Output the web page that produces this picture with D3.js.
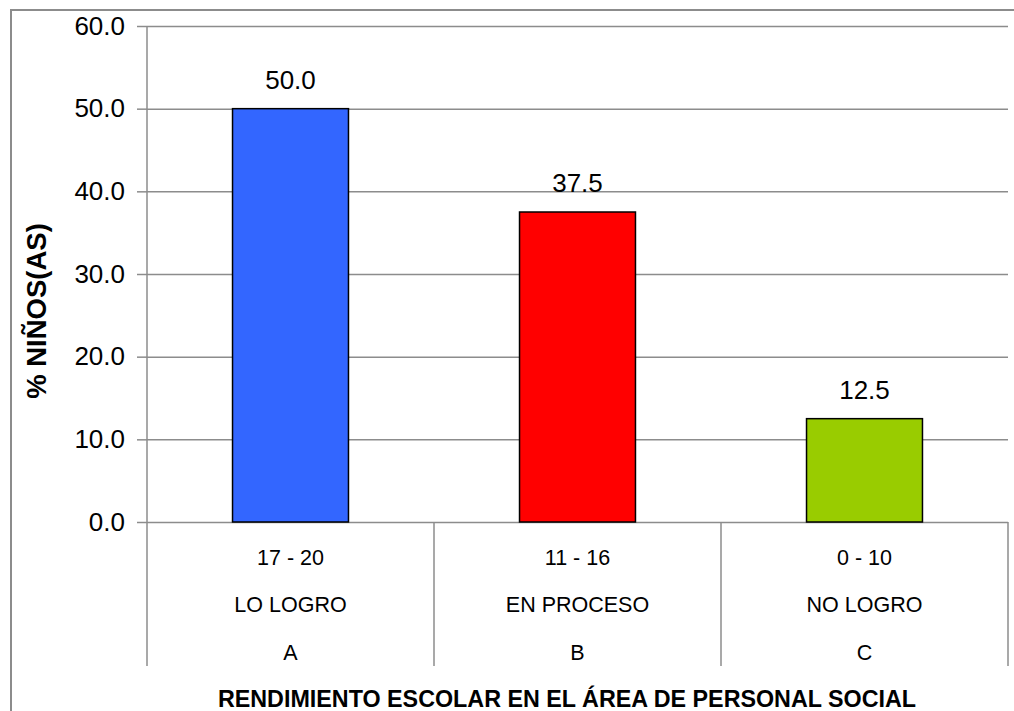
<!DOCTYPE html>
<html>
<head>
<meta charset="utf-8">
<script src="https://cdn.jsdelivr.net/npm/d3@7"></script>
<style>
  body { margin: 0; background: #fff; }
  svg { display: block; font-family: "Liberation Sans", Arial, sans-serif; }
</style>
</head>
<body>
<div id="chart"></div>
<script>
// data
const categories = ["A", "B", "C"];
const ranges = ["17 - 20", "11 - 16", "0 - 10"];
const levels = ["LO LOGRO", "EN PROCESO", "NO LOGRO"];
const values = [50.0, 37.5, 12.5];
const colors = ["#3366FF", "#FF0000", "#99CC00"];
const yTicks = [0, 10, 20, 30, 40, 50, 60];

const width = 1014, height = 711;
const margin = {top: 26, right: 6, bottom: 189, left: 147};
const catBottom = 666;

let svg = d3.select("#chart")
    .append("svg")
    .attr("width", width)
    .attr("height", height);

// outer chart border (cut off at right/bottom)
svg.append("rect")
    .attr("x", 11).attr("y", 10)
    .attr("width", width + 20).attr("height", height + 20)
    .attr("fill", "none")
    .attr("stroke", "#8c8c8c")
    .attr("stroke-width", 2);

let x = d3.scaleBand()
    .domain(categories)
    .range([margin.left, width - margin.right])
    .padding(0);

let y = d3.scaleLinear()
    .domain([0, 60])
    .range([height - margin.bottom, margin.top]);

const gridColor = "#8c8c8c";

// gridlines
svg.append("g")
    .attr("transform", `translate(${margin.left},0)`)
    .call(d3.axisLeft(y).tickValues(yTicks).tickSize(-(width - margin.right - margin.left)).tickFormat(""))
    .call(g => g.select(".domain").remove())
    .call(g => g.selectAll("line").attr("stroke", gridColor).attr("stroke-width", 1.5));

// y axis with ticks and labels
svg.append("g")
    .attr("transform", `translate(${margin.left},0)`)
    .call(d3.axisLeft(y).tickValues(yTicks).tickSize(10).tickPadding(12).tickFormat(d3.format(".1f")))
    .call(g => g.select(".domain").remove())
    .call(g => g.selectAll("line").attr("stroke", gridColor).attr("stroke-width", 1.5))
    .call(g => g.selectAll("text")
        .attr("fill", "#000")
        .style("font-size", "26px")
        .style("font-family", "'Liberation Sans', Arial, sans-serif"));

// axis lines (left axis runs down through the category table)
svg.append("line")
    .attr("x1", margin.left).attr("x2", margin.left)
    .attr("y1", margin.top).attr("y2", catBottom)
    .attr("stroke", gridColor).attr("stroke-width", 1.5);

// category separators
svg.append("g").selectAll("line")
    .data(categories)
    .enter()
    .append("line")
    .attr("x1", d => x(d) + x.bandwidth())
    .attr("x2", d => x(d) + x.bandwidth())
    .attr("y1", y(0))
    .attr("y2", catBottom)
    .attr("stroke", gridColor)
    .attr("stroke-width", 1.5);

// bars
const barW = x.bandwidth() * 0.404;
svg.append("g").selectAll("rect")
    .data(values)
    .enter()
    .append("rect")
    .attr("x", (d, i) => x(categories[i]) + (x.bandwidth() - barW) / 2)
    .attr("y", d => y(d))
    .attr("width", barW)
    .attr("height", d => y(0) - y(d))
    .attr("fill", (d, i) => colors[i])
    .attr("stroke", "#000")
    .attr("stroke-width", 1.5);

// value labels
svg.append("g").selectAll("text")
    .data(values)
    .enter()
    .append("text")
    .attr("x", (d, i) => x(categories[i]) + x.bandwidth() / 2)
    .attr("y", d => y(d) - 20)
    .attr("text-anchor", "middle")
    .style("font-size", "26px")
    .text(d => d3.format(".1f")(d));

// category labels, three rows
const rows = [ranges, levels, categories];
const rowY = [565, 612, 660];
rows.forEach(function(row, r) {
    svg.append("g").selectAll("text")
        .data(row)
        .enter()
        .append("text")
        .attr("x", (d, i) => x(categories[i]) + x.bandwidth() / 2)
        .attr("y", rowY[r])
        .attr("text-anchor", "middle")
        .style("font-size", "21.5px")
        .text(d => d);
});

// axis titles
svg.append("text")
    .attr("transform", "translate(46, 311) rotate(-90)")
    .attr("text-anchor", "middle")
    .style("font-size", "27.5px")
    .style("font-weight", "bold")
    .text("% NIÑOS(AS)");

svg.append("text")
    .attr("x", 567)
    .attr("y", 707)
    .attr("text-anchor", "middle")
    .style("font-size", "23.3px")
    .style("font-weight", "bold")
    .text("RENDIMIENTO ESCOLAR EN EL ÁREA DE PERSONAL SOCIAL");
</script>
</body>
</html>
